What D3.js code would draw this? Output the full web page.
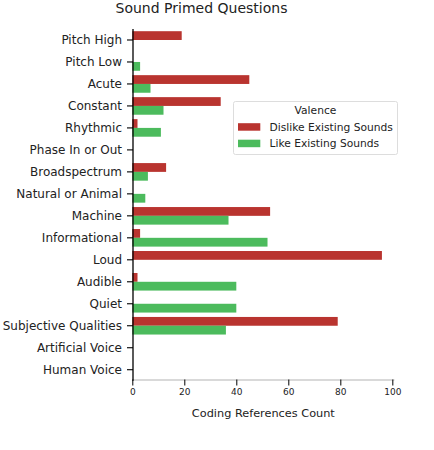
<!DOCTYPE html>
<html>
<head>
<meta charset="utf-8">
<script src="https://cdn.jsdelivr.net/npm/d3@7"></script>
<style>
  html, body { margin: 0; padding: 0; background: #fff; }
  svg { display: block; font-family: "DejaVu Sans", sans-serif; }
</style>
</head>
<body>
<svg id="chart" width="434" height="450"></svg>
<script>
const categories = ["Pitch High", "Pitch Low", "Acute", "Constant", "Rhythmic", "Phase In or Out",
  "Broadspectrum", "Natural or Animal", "Machine", "Informational", "Loud", "Audible", "Quiet",
  "Subjective Qualities", "Artificial Voice", "Human Voice"];
const seriesNames = ["Dislike Existing Sounds", "Like Existing Sounds"];
const dislikeValues = [19, 0, 45, 34, 2, 0, 13, 0, 53, 3, 96, 2, 0, 79, 0, 0];
const likeValues = [0, 3, 7, 12, 11, 0, 6, 5, 37, 52, 0, 40, 40, 36, 0, 0];
const xTicks = [0, 20, 40, 60, 80, 100];
const colors = ["#b9342f", "#4cbb5d"];
const titleText = "Sound Primed Questions";
const xLabel = "Coding References Count";
const legendTitle = "Valence";

(function () {
const svg = d3.select("#chart");
const pLeft = 132.3, pRight = 394.4, pTop = 29, pBottom = 380.7;

const x = d3.scaleLinear().domain([0, 100.8]).range([pLeft, pRight]);
const y = d3.scaleBand().domain(categories).range([pTop, pBottom]).paddingInner(0.2).paddingOuter(0.1);
const ySub = d3.scaleBand().domain(seriesNames).range([0, y.bandwidth()]).padding(0);

const data = categories.map((c, i) => ({ cat: c, values: [dislikeValues[i], likeValues[i]] }));

// bars
const groups = svg.append("g").selectAll("g").data(data).join("g")
  .attr("transform", d => `translate(0,${y(d.cat)})`);
groups.selectAll("rect").data(d => d.values.map((v, j) => ({ v, name: seriesNames[j], j })))
  .join("rect")
  .attr("x", x(0))
  .attr("y", d => ySub(d.name))
  .attr("width", d => x(d.v) - x(0))
  .attr("height", ySub.bandwidth())
  .attr("fill", d => colors[d.j]);

// x axis
const xAxis = svg.append("g").attr("transform", `translate(0,${pBottom - 1.2})`)
  .call(d3.axisBottom(x).tickValues(xTicks).tickSize(6).tickPadding(3));
xAxis.select(".domain").attr("stroke", "#cccccc").attr("stroke-width", 1.4)
  .attr("d", `M${pLeft},0.5H${pRight}`);
xAxis.selectAll(".tick line").attr("stroke", "#000").attr("stroke-width", 1);
xAxis.selectAll(".tick text").attr("font-size", 9).attr("fill", "#222")
  .attr("font-family", "DejaVu Sans");

// y axis
const yAxis = svg.append("g").attr("transform", `translate(${pLeft + 0.7},0)`)
  .call(d3.axisLeft(y).tickSize(6).tickPadding(5));
yAxis.select(".domain").attr("stroke", "#000").attr("stroke-width", 1.3)
  .attr("d", `M0,${pTop}V${pBottom}`);
yAxis.selectAll(".tick line").attr("stroke", "#000").attr("stroke-width", 1.1);
yAxis.selectAll(".tick text").attr("font-size", 12).attr("fill", "#222")
  .attr("font-family", "DejaVu Sans");

// title
svg.append("text").attr("x", 201.5).attr("y", 13.2).attr("text-anchor", "middle")
  .attr("font-size", 14).attr("fill", "#222").text(titleText);

// x label
svg.append("text").attr("x", (pLeft + pRight) / 2).attr("y", 416.5).attr("text-anchor", "middle")
  .attr("font-size", 11.3).attr("fill", "#222").text(xLabel);

// legend
const lg = svg.append("g");
lg.append("rect").attr("x", 233.5).attr("y", 101.5).attr("width", 164).attr("height", 53)
  .attr("rx", 2).attr("fill", "#fff").attr("fill-opacity", 0.85)
  .attr("stroke", "#dddddd").attr("stroke-width", 1);
lg.append("text").attr("x", 315.5).attr("y", 114.3).attr("text-anchor", "middle")
  .attr("font-size", 10.7).attr("fill", "#222").text(legendTitle);
seriesNames.forEach((name, i) => {
  const yy = 123.2 + i * 16.5;
  lg.append("rect").attr("x", 238).attr("y", yy).attr("width", 22.3).attr("height", 7.5)
    .attr("fill", colors[i]);
  lg.append("text").attr("x", 269.5).attr("y", yy + 7.6)
    .attr("font-size", 10.7).attr("fill", "#222").text(name);
});
})();
</script>
</body>
</html>
